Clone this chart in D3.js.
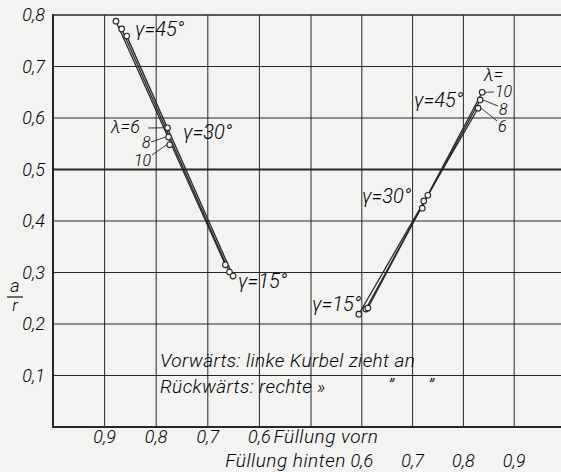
<!DOCTYPE html>
<html>
<head>
<meta charset="utf-8">
<script src="https://cdn.jsdelivr.net/npm/d3@7"></script>
<style>
body{margin:0;background:#f3f3f1;}
svg{display:block;}
text{font-family:Roboto,"Open Sans",sans-serif;font-style:italic;font-weight:300;fill:#000;}
</style>
</head>
<body>
<svg></svg>
<script>
var lambdas = [6, 8, 10];
var gammas = [15, 30, 45];

// vorn (linke Kurve)
var vornFuellung = [[0.666, 0.778, 0.878], [0.658, 0.776, 0.867], [0.651, 0.774, 0.857]];
var vornAr = [[0.315, 0.581, 0.788], [0.301, 0.563, 0.773], [0.293, 0.548, 0.759]];

// hinten (rechte Kurve)
var hintenFuellung = [[0.594, 0.719, 0.829], [0.608, 0.722, 0.833], [0.612, 0.730, 0.837]];
var hintenAr = [[0.219, 0.425, 0.619], [0.229, 0.439, 0.635], [0.231, 0.450, 0.650]];

var yTicks = [0.1, 0.2, 0.3, 0.4, 0.5, 0.6, 0.7, 0.8];
var vornTicks = [0.9, 0.8, 0.7, 0.6];
var hintenTicks = [0.6, 0.7, 0.8, 0.9];

var screen = {width:561, height:472};
var svg = d3.select("svg").attr("width", screen.width).attr("height", screen.height);

var xVorn = d3.scaleLinear().domain([1.0, 0.5]).range([53, 311]);
var xHinten = d3.scaleLinear().domain([0.5, 1.0]).range([311, 565]);
var yScale = d3.scaleLinear().domain([0, 0.8]).range([427, 15]);

var ink = "#262626";
var bg = "#f3f3f1";
var fmt = function(v){ return d3.format(".1f")(v).replace(".", ","); };

// Gitter
var grid = svg.append("g");
var vLines = vornTicks.map(xVorn).concat([xVorn(0.5)]).concat(hintenTicks.map(xHinten)).concat([xHinten(1.0)]);
grid.selectAll("line.v").data(vLines).enter().append("line")
    .attr("x1", function(d){ return d; }).attr("x2", function(d){ return d; })
    .attr("y1", yScale(0.8)).attr("y2", yScale(0))
    .attr("stroke", ink).attr("stroke-width", 1);
grid.selectAll("line.h").data(yTicks).enter().append("line")
    .attr("x1", xVorn(1.0)).attr("x2", screen.width + 10)
    .attr("y1", function(d){ return yScale(d); }).attr("y2", function(d){ return yScale(d); })
    .attr("stroke", ink)
    .attr("stroke-width", function(d){ return d == 0.5 ? 2.2 : (d == 0.8 ? 1.6 : 1); });

// Achsen
svg.append("line").attr("x1", xVorn(1.0)).attr("x2", xVorn(1.0))
    .attr("y1", yScale(0.8) - 1).attr("y2", yScale(0) + 1).attr("stroke", ink).attr("stroke-width", 2);
svg.append("line").attr("x1", xVorn(1.0) - 1).attr("x2", screen.width + 10)
    .attr("y1", yScale(0)).attr("y2", yScale(0)).attr("stroke", ink).attr("stroke-width", 2);

// Achsenbeschriftung
svg.selectAll("text.yt").data(yTicks).enter().append("text")
    .attr("x", 45).attr("y", function(d){ return yScale(d) + 6; })
    .attr("text-anchor", "end").attr("font-size", 18).text(fmt);

svg.selectAll("text.xv").data(vornTicks).enter().append("text")
    .attr("x", function(d){ return xVorn(d); }).attr("y", 443)
    .attr("text-anchor", "middle").attr("font-size", 18).text(fmt);
svg.append("text").attr("x", xVorn(0.6) + 14).attr("y", 443).attr("font-size", 19)
    .attr("letter-spacing", 0.5).text("Füllung  vorn");

svg.selectAll("text.xh").data(hintenTicks).enter().append("text")
    .attr("x", function(d){ return xHinten(d); }).attr("y", 467)
    .attr("text-anchor", "middle").attr("font-size", 18).text(fmt);
svg.append("text").attr("x", xHinten(0.6) - 16).attr("y", 467).attr("text-anchor", "end")
    .attr("font-size", 19).attr("letter-spacing", 0.5).text("Füllung  hinten");

// a/r
svg.append("text").attr("x", 15).attr("y", 292).attr("text-anchor", "middle").attr("font-size", 18).text("a");
svg.append("line").attr("x1", 7).attr("x2", 23).attr("y1", 297).attr("y2", 297).attr("stroke", ink).attr("stroke-width", 1.3);
svg.append("text").attr("x", 15).attr("y", 311).attr("text-anchor", "middle").attr("font-size", 17).text("r");

// Kurven: je Lambda eine Gerade vom 15- zum 45-Grad-Punkt, dazu die Messpunkte
var drawGroup = function(xs, ys, xScale)
{
    var g = svg.append("g");
    var line = d3.line().x(function(d){ return xScale(d[0]); }).y(function(d){ return yScale(d[1]); });
    lambdas.forEach(function(l, i)
    {
        var n = xs[i].length - 1;
        var pts = [[xs[i][0], ys[i][0]], [xs[i][n], ys[i][n]]];
        g.append("path").attr("d", line(pts)).attr("fill", "none").attr("stroke", ink).attr("stroke-width", 1.3);
    });
    lambdas.forEach(function(l, i)
    {
        xs[i].forEach(function(x, j)
        {
            g.append("circle").attr("cx", xScale(x)).attr("cy", yScale(ys[i][j])).attr("r", 2.8)
                .attr("fill", bg).attr("stroke", ink).attr("stroke-width", 1.1);
        });
    });
};
drawGroup(vornFuellung, vornAr, xVorn);
drawGroup(hintenFuellung, hintenAr, xHinten);

var label = function(x, y, t, size)
{
    return svg.append("text").attr("x", x).attr("y", y).attr("font-size", size || 20).text(t);
};
var leader = function(x1, y1, x2, y2)
{
    svg.append("line").attr("x1", x1).attr("y1", y1).attr("x2", x2).attr("y2", y2)
        .attr("stroke", ink).attr("stroke-width", 0.9);
};

// Beschriftung links
label(135, 36, "γ=45°");
label(183, 139, "γ=30°");
label(238, 288, "γ=15°");
label(111, 133, "λ=6", 18);
label(142, 148, "8", 16);
label(134, 166, "10", 16);
leader(148, 128, xVorn(vornFuellung[0][1]) - 3, yScale(vornAr[0][1]));
leader(151, 142, xVorn(vornFuellung[1][1]) - 3, yScale(vornAr[1][1]));
leader(152, 155, xVorn(vornFuellung[2][1]) - 3, yScale(vornAr[2][1]));

// Beschriftung rechts
label(414, 107, "γ=45°");
label(362, 203, "γ=30°");
label(312, 311, "γ=15°");
label(484, 81, "λ=", 18);
label(495, 97, "10", 16);
label(499, 115, "8", 16);
label(498, 132, "6", 16);
leader(xHinten(hintenFuellung[2][2]) + 3, yScale(hintenAr[2][2]), 494, 92);
leader(xHinten(hintenFuellung[1][2]) + 3, yScale(hintenAr[1][2]), 498, 106);
leader(xHinten(hintenFuellung[0][2]) + 3, yScale(hintenAr[0][2]), 497, 121);

// Hinweis
label(160, 367, "Vorwärts:  linke Kurbel  zieht  an", 19).attr("letter-spacing", 0.4);
label(160, 393, "Rückwärts: rechte  »", 19).attr("letter-spacing", 0.4);
label(388, 393, "”");
label(428, 393, "”");
</script>
</body>
</html>
